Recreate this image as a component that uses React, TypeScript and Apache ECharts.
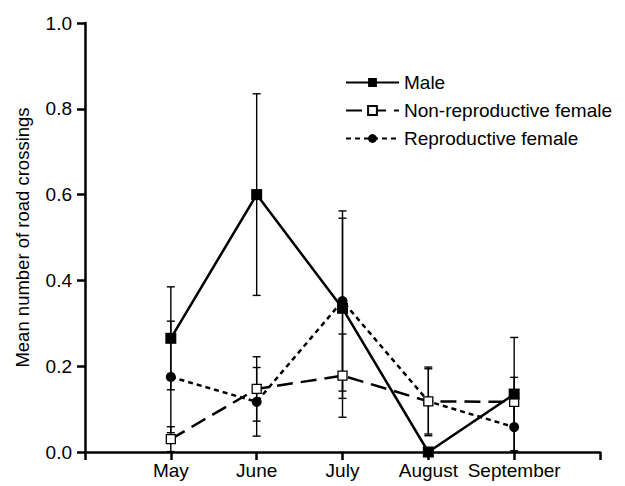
import React, { useEffect, useRef } from "react";
import * as echarts from "echarts";

const months = ["May", "June", "July", "August", "September"];
const yTicks = [0, 0.2, 0.4, 0.6, 0.8, 1.0];

const maleMean = [0.265, 0.6, 0.335, 0, 0.135];
const maleSE = [0.12, 0.235, 0.21, 0, 0.132];
const nonRepMean = [0.03, 0.147, 0.178, 0.118, 0.117];
const nonRepSE = [0.029, 0.075, 0.097, 0.08, 0.057];
const repMean = [0.175, 0.117, 0.352, 0.118, 0.058];
const repSE = [0.13, 0.08, 0.21, 0.076, 0.058];

const FONT = "Liberation Sans, Arial, sans-serif";

function pts(mean: number[]) {
  return mean.map((v, i) => [i + 1, v]);
}
function errs(mean: number[], se: number[]) {
  return mean
    .map((v, i) => [i + 1, Math.max(0, v - se[i]), v + se[i], se[i]])
    .filter((d) => d[3] > 0);
}

const errorRender = (params: any, api: any) => {
  const x = api.value(0);
  const lo = api.coord([x, api.value(1)]);
  const hi = api.coord([x, api.value(2)]);
  const cap = 4;
  const style = { stroke: "#000", lineWidth: 1.4 };
  return {
    type: "group",
    children: [
      { type: "line", shape: { x1: hi[0], y1: hi[1], x2: lo[0], y2: lo[1] }, style },
      { type: "line", shape: { x1: hi[0] - cap, y1: hi[1], x2: hi[0] + cap, y2: hi[1] }, style },
      { type: "line", shape: { x1: lo[0] - cap, y1: lo[1], x2: lo[0] + cap, y2: lo[1] }, style },
    ],
  };
};

export default function App() {
  const ref = useRef<HTMLDivElement>(null);
  useEffect(() => {
    if (!ref.current) return;
    const chart = echarts.init(ref.current, undefined, { renderer: "svg" });
    chart.setOption({
      animation: false,
      backgroundColor: "#fff",
      grid: { left: 85, right: 25, top: 23, bottom: 34 },
      legend: {
        orient: "vertical",
        left: 340,
        top: 68,
        itemWidth: 53,
        itemHeight: 11,
        itemGap: 9,
        textStyle: { fontFamily: FONT, fontSize: 19, color: "#000" },
        data: ["Male", "Non-reproductive female", "Reproductive female"],
      },
      xAxis: {
        type: "value",
        min: 0,
        max: 6,
        interval: 1,
        splitLine: { show: false },
        axisLine: { lineStyle: { color: "#000", width: 2.5 } },
        axisTick: { length: 8, lineStyle: { color: "#000", width: 2.5 } },
        axisLabel: {
          fontFamily: FONT,
          fontSize: 19,
          color: "#000",
          margin: 9,
          formatter: (v: number) => months[v - 1] ?? "",
        },
      },
      yAxis: {
        type: "value",
        min: 0,
        max: 1,
        interval: 0.2,
        name: "Mean number of road crossings",
        nameLocation: "middle",
        nameRotate: 90,
        nameGap: 53,
        nameTextStyle: { fontFamily: FONT, fontSize: 18.5, color: "#000" },
        splitLine: { show: false },
        axisLine: { show: true, lineStyle: { color: "#000", width: 2.5 } },
        axisTick: { show: true, length: 8, lineStyle: { color: "#000", width: 2.5 } },
        axisLabel: {
          fontFamily: FONT,
          fontSize: 19,
          color: "#000",
          margin: 13,
          formatter: (v: number) => (yTicks.includes(Number(v.toFixed(1))) ? v.toFixed(1) : ""),
        },
      },
      series: [
        {
          type: "custom",
          name: "errMale",
          renderItem: errorRender,
          data: errs(maleMean, maleSE),
          encode: { x: 0, y: [1, 2] },
          z: 1,
          silent: true,
        },
        {
          type: "custom",
          name: "errNonRep",
          renderItem: errorRender,
          data: errs(nonRepMean, nonRepSE),
          encode: { x: 0, y: [1, 2] },
          z: 1,
          silent: true,
        },
        {
          type: "custom",
          name: "errRep",
          renderItem: errorRender,
          data: errs(repMean, repSE),
          encode: { x: 0, y: [1, 2] },
          z: 1,
          silent: true,
        },
        {
          type: "line",
          name: "Reproductive female",
          data: pts(repMean),
          symbol: "circle",
          symbolSize: 10,
          lineStyle: { color: "#000", width: 2.5, type: [5, 4] },
          itemStyle: { color: "#000" },
          z: 3,
        },
        {
          type: "line",
          name: "Non-reproductive female",
          data: pts(nonRepMean),
          symbol: "rect",
          symbolSize: 9,
          lineStyle: { color: "#000", width: 2.5, type: [16, 8] },
          itemStyle: { color: "#fff", borderColor: "#000", borderWidth: 1.3 },
          z: 3,
        },
        {
          type: "line",
          name: "Male",
          data: pts(maleMean),
          symbol: "rect",
          symbolSize: 11,
          lineStyle: { color: "#000", width: 2.5, type: "solid" },
          itemStyle: { color: "#000" },
          z: 4,
        },
      ],
    });
    return () => chart.dispose();
  }, []);
  return (
    <div
      ref={ref}
      style={{ width: 625, height: 486, position: "fixed", left: 0, top: 0, background: "#fff" }}
    />
  );
}
